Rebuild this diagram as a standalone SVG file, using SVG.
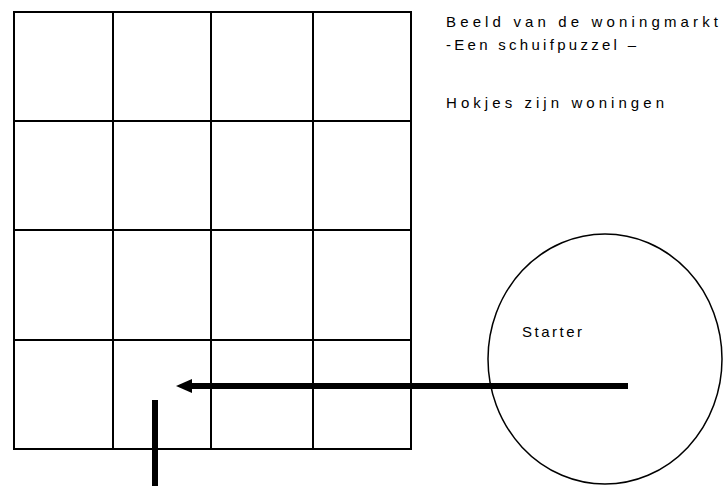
<svg xmlns="http://www.w3.org/2000/svg" width="724" height="486" viewBox="0 0 724 486">
<style>
.grid{stroke:#000;stroke-width:2;fill:none}
.txt{font-family:"Liberation Sans",Arial,sans-serif;font-size:15px;fill:#000}
.thick{stroke:#000;stroke-width:6;fill:none}
</style>
<defs>
<marker id="ah" markerWidth="4" markerHeight="4" refX="1" refY="2" orient="auto" markerUnits="strokeWidth" overflow="visible">
<path d="M3,2 L0.2,0.3 L0.2,3.7 Z" fill="#000"/>
</marker>
</defs>
<rect width="724" height="486" fill="#fff"/>
<g id="grid">
<rect class="grid" x="14" y="12" width="397" height="437"/>
<line class="grid" x1="113" y1="12" x2="113" y2="449"/>
<line class="grid" x1="211" y1="12" x2="211" y2="449"/>
<line class="grid" x1="313" y1="12" x2="313" y2="449"/>
<line class="grid" x1="14" y1="121" x2="411" y2="121"/>
<line class="grid" x1="14" y1="230" x2="411" y2="230"/>
<line class="grid" x1="14" y1="340" x2="411" y2="340"/>
</g>
<g id="title">
<text class="txt" x="446" y="27" textLength="272" lengthAdjust="spacing">Beeld van de woningmarkt</text>
<text class="txt" x="446" y="50" textLength="190" lengthAdjust="spacing">-Een schuifpuzzel –</text>
<text class="txt" x="446" y="108" textLength="218" lengthAdjust="spacing">Hokjes zijn woningen</text>
</g>
<g id="starter">
<ellipse cx="605" cy="359" rx="117" ry="125" fill="none" stroke="#000" stroke-width="1.5"/>
<text class="txt" x="522" y="337" textLength="60" lengthAdjust="spacing">Starter</text>
</g>
<g id="connectors">
<line class="thick" x1="628" y1="386" x2="188" y2="386"/>
<polygon points="176,386 192,379 192,393" fill="#000"/>
<line class="thick" x1="155" y1="400" x2="155" y2="486"/>
</g>
</svg>
